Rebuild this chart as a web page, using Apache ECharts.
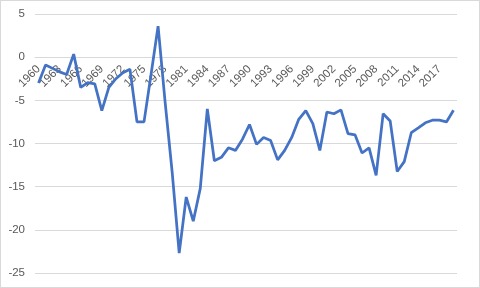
<!DOCTYPE html>
<html>
<head>
<meta charset="utf-8">
<script src="https://cdn.jsdelivr.net/npm/echarts@6/dist/echarts.min.js"></script>
<style>
html,body{margin:0;padding:0;background:#fff;}
#frame{position:absolute;left:0;top:0;width:478px;height:286px;border:1px solid #d9d9d9;}
#chart{position:absolute;left:0;top:0;width:480px;height:288px;}
</style>
</head>
<body>
<div id="frame"></div>
<div id="chart"></div>
<script>
var years = [];
for (var y = 1960; y <= 2019; y++) years.push(String(y));

var values = [
  -3.0, -0.9, -1.3, -1.7, -2.0, 0.35, -3.5, -2.95, -3.1, -6.2,
  -3.5, -2.5, -1.8, -1.4, -7.5, -7.5, -2.0, 3.6, -5.2, -13.3,
  -22.7, -16.2, -19.0, -15.2, -6.0, -12.0, -11.6, -10.5, -10.8, -9.5,
  -7.8, -10.1, -9.3, -9.65, -11.9, -10.8, -9.3, -7.2, -6.2, -7.7,
  -10.8, -6.35, -6.55, -6.1, -8.85, -9.0, -11.1, -10.5, -13.7, -6.55,
  -7.4, -13.25, -12.1, -8.75, -8.2, -7.6, -7.3, -7.3, -7.5, -6.15
];

var yMin = -25, yMax = 5, yStep = 5;

var gridTop = 14, gridBottom = 15, H = 288;
var plotH = H - gridTop - gridBottom;
var zeroFromBottom = plotH * (0 - yMin) / (yMax - yMin);

var chart = echarts.init(document.getElementById('chart'));
chart.setOption({
  animation: false,
  grid: {left: 35, right: 23, top: gridTop, bottom: gridBottom},
  xAxis: {
    type: 'category',
    data: years,
    boundaryGap: true,
    offset: -zeroFromBottom,
    axisLine: {onZero: false, lineStyle: {color: '#d9d9d9', width: 1}},
    axisTick: {show: false},
    axisLabel: {
      interval: 2,
      rotate: 45,
      color: '#595959',
      fontSize: 11.5,
      fontFamily: 'Liberation Sans',
      margin: 10
    },
    splitLine: {show: false}
  },
  yAxis: {
    type: 'value',
    min: yMin, max: yMax, interval: yStep,
    axisLine: {show: false},
    axisTick: {show: false},
    axisLabel: {color: '#595959', fontSize: 11.5, fontFamily: 'Liberation Sans', margin: 10},
    splitLine: {lineStyle: {color: '#d9d9d9', width: 1}}
  },
  series: [{
    type: 'line',
    data: values,
    symbol: 'none',
    lineStyle: {color: '#4472C4', width: 2.75},
    itemStyle: {color: '#4472C4'}
  }]
});
</script>
</body>
</html>
